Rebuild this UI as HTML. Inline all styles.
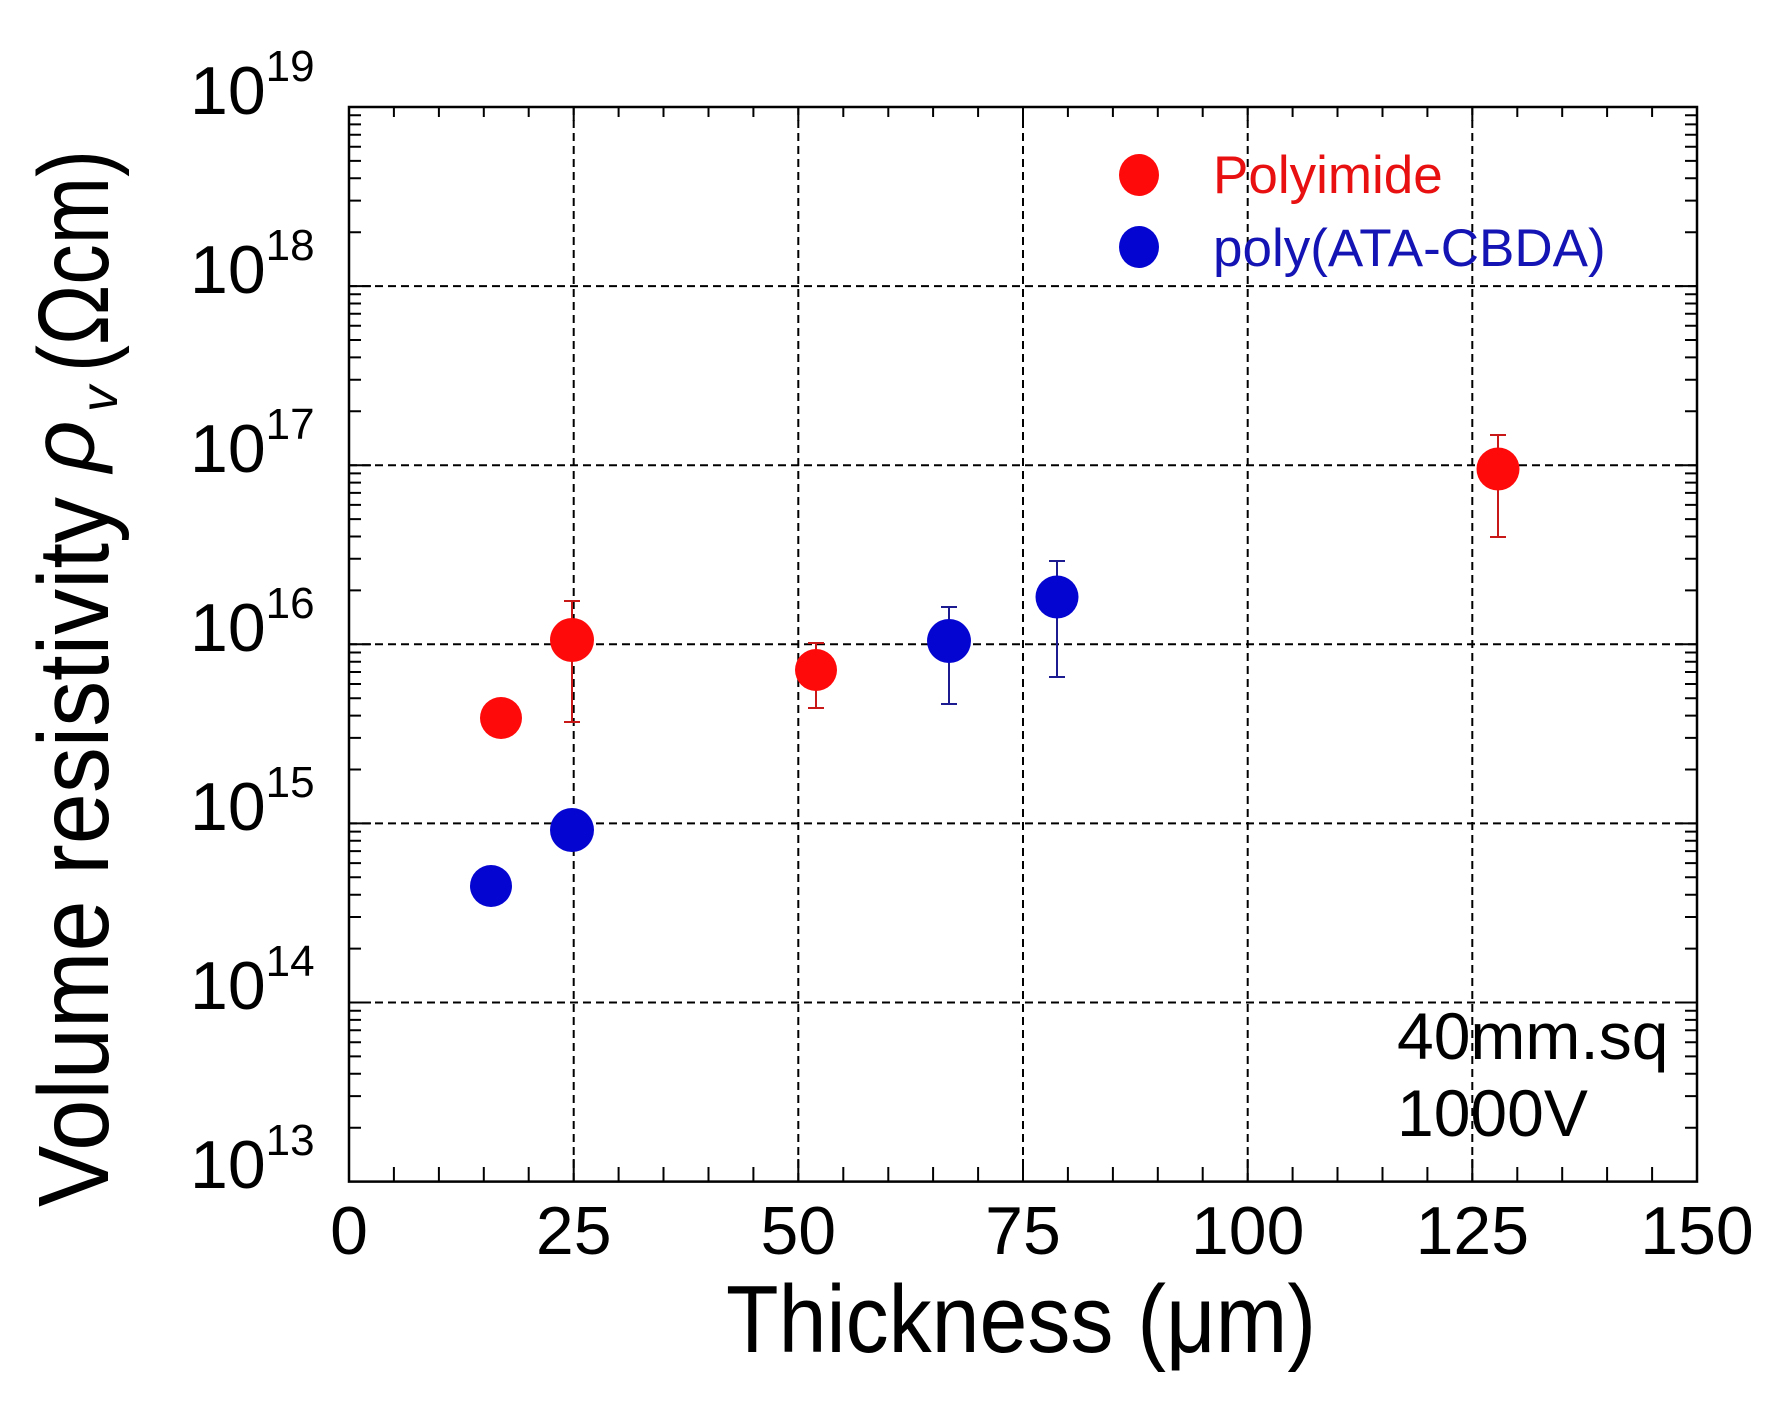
<!DOCTYPE html>
<html><head><meta charset="utf-8"><style>
html,body{margin:0;padding:0;background:#fff;}
svg{display:block;}
text{font-family:"Liberation Sans",Arial,sans-serif;}
</style></head><body>
<svg width="1781" height="1411" viewBox="0 0 1781 1411" xmlns="http://www.w3.org/2000/svg">
<rect width="1781" height="1411" fill="#fff"/>
<defs>
<g id="mt" stroke="#000" stroke-width="2">
<path d="M349,-53.9h12M349,-85.5h12M349,-107.8h12M349,-125.2h12M349,-139.4h12M349,-151.4h12M349,-161.7h12M349,-170.9h12M1697,-53.9h-12M1697,-85.5h-12M1697,-107.8h-12M1697,-125.2h-12M1697,-139.4h-12M1697,-151.4h-12M1697,-161.7h-12M1697,-170.9h-12"/>
</g>
</defs>
<!-- grid -->
<g stroke="#000" stroke-width="2" stroke-dasharray="8 5" fill="none">
<path d="M349,286.1H1697M349,465.2H1697M349,644.3H1697M349,823.4H1697M349,1002.5H1697"/>
<path d="M573.7,107V1181M798.3,107V1181M1023,107V1181M1247.7,107V1181M1472.3,107V1181"/>
</g>
<!-- minor y ticks -->
<use href="#mt" transform="translate(0,286.1)"/>
<use href="#mt" transform="translate(0,465.2)"/>
<use href="#mt" transform="translate(0,644.3)"/>
<use href="#mt" transform="translate(0,823.4)"/>
<use href="#mt" transform="translate(0,1002.5)"/>
<use href="#mt" transform="translate(0,1181.6)"/>
<!-- major y ticks -->
<path stroke="#000" stroke-width="2" d="M349,286.1h22M349,465.2h22M349,644.3h22M349,823.4h22M349,1002.5h22M1697,286.1h-22M1697,465.2h-22M1697,644.3h-22M1697,823.4h-22M1697,1002.5h-22"/>
<!-- x ticks -->
<path stroke="#000" stroke-width="2" d="M393.9,1181v-14M438.9,1181v-14M483.8,1181v-14M528.7,1181v-14M618.6,1181v-14M663.5,1181v-14M708.5,1181v-14M753.4,1181v-14M843.3,1181v-14M888.3,1181v-14M933.1,1181v-14M978.1,1181v-14M1067.9,1181v-14M1112.9,1181v-14M1157.8,1181v-14M1202.7,1181v-14M1292.6,1181v-14M1337.5,1181v-14M1382.5,1181v-14M1427.4,1181v-14M1517.3,1181v-14M1562.2,1181v-14M1607.1,1181v-14M1652.1,1181v-14
M393.9,107v10M438.9,107v10M483.8,107v10M528.7,107v10M618.6,107v10M663.5,107v10M708.5,107v10M753.4,107v10M843.3,107v10M888.3,107v10M933.1,107v10M978.1,107v10M1067.9,107v10M1112.9,107v10M1157.8,107v10M1202.7,107v10M1292.6,107v10M1337.5,107v10M1382.5,107v10M1427.4,107v10M1517.3,107v10M1562.2,107v10M1607.1,107v10M1652.1,107v10
M573.7,1181v-22M798.3,1181v-22M1023,1181v-22M1247.7,1181v-22M1472.3,1181v-22
M573.7,107v14M798.3,107v14M1023,107v14M1247.7,107v14M1472.3,107v14"/>
<!-- frame -->
<rect x="349" y="107" width="1348" height="1074.6" fill="none" stroke="#000" stroke-width="2.5"/>

<!-- error bars -->
<g stroke="#c81818" stroke-width="2" fill="none">
<path d="M572,601V722M564,601h16M564,722h16"/>
<path d="M816,643V708M808,643h16M808,708h16"/>
<path d="M1498,435V537M1490,435h16M1490,537h16"/>
</g>
<g stroke="#1c1c90" stroke-width="2" fill="none">
<path d="M949,607V704M941,607h16M941,704h16"/>
<path d="M1057,561V677M1049,561h16M1049,677h16"/>
</g>
<!-- markers -->
<g fill="#ff0a0a">
<circle cx="572" cy="640" r="22"/>
<circle cx="501" cy="718" r="21"/>
<circle cx="816" cy="670" r="21"/>
<circle cx="1498" cy="469" r="21.5"/>
</g>
<g fill="#0505d2">
<circle cx="572" cy="830" r="22"/>
<circle cx="491" cy="886" r="21"/>
<circle cx="949" cy="641" r="22"/>
<circle cx="1057" cy="597" r="21.5"/>
</g>

<!-- legend -->
<ellipse cx="1139" cy="175" rx="20" ry="21" fill="#ff0a0a"/>
<ellipse cx="1139" cy="247" rx="20" ry="21" fill="#0505d2"/>
<text x="1213" y="193" font-size="53" fill="#e81010">Polyimide</text>
<text x="1213" y="266" font-size="53" fill="#1414b4">poly(ATA-CBDA)</text>

<!-- annotations -->
<text x="1397" y="1059" font-size="66" fill="#000">40mm.sq</text>
<text x="1397" y="1136" font-size="66" fill="#000">1000V</text>

<!-- x tick labels -->
<g font-size="68" fill="#000" text-anchor="middle">
<text x="349" y="1254">0</text>
<text x="573.7" y="1254">25</text>
<text x="798.3" y="1254">50</text>
<text x="1023" y="1254">75</text>
<text x="1247.7" y="1254">100</text>
<text x="1472.3" y="1254">125</text>
<text x="1697" y="1254">150</text>
</g>
<!-- y tick labels -->
<g font-size="68" fill="#000">
<text x="190" y="114">10<tspan font-size="44" dy="-33">19</tspan></text>
<text x="190" y="293">10<tspan font-size="44" dy="-33">18</tspan></text>
<text x="190" y="472">10<tspan font-size="44" dy="-33">17</tspan></text>
<text x="190" y="651">10<tspan font-size="44" dy="-33">16</tspan></text>
<text x="190" y="830">10<tspan font-size="44" dy="-33">15</tspan></text>
<text x="190" y="1009">10<tspan font-size="44" dy="-33">14</tspan></text>
<text x="190" y="1188">10<tspan font-size="44" dy="-33">13</tspan></text>
</g>

<!-- axis titles -->
<text x="726" y="1352" font-size="96" fill="#000" textLength="590" lengthAdjust="spacingAndGlyphs">Thickness (μm)</text>

<text transform="translate(108,1207) rotate(-90)" font-size="100" fill="#000" textLength="710" lengthAdjust="spacingAndGlyphs">Volume resistivity</text>
<text transform="translate(94,472) rotate(-90)" font-size="90" font-style="italic" fill="#000">ρ</text>
<text transform="translate(117,412) rotate(-90)" font-size="52" font-style="italic" fill="#000">v</text>
<text transform="translate(108,372) rotate(-90)" font-size="100" fill="#000" textLength="222" lengthAdjust="spacingAndGlyphs">(Ωcm)</text>
</svg>
</body></html>
